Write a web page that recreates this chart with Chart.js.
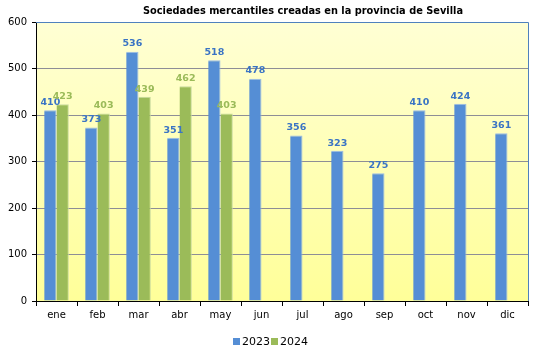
<!DOCTYPE html>
<html>
<head>
<meta charset="utf-8">
<script src="https://cdn.jsdelivr.net/npm/chart.js@4"></script>
<style>
  html, body { margin: 0; padding: 0; background: #fff; }
  #wrap { width: 539px; height: 351px; }
</style>
</head>
<body>
<div id="wrap"><canvas id="bar-chart"></canvas></div>
<script>
var meses = ["ene", "feb", "mar", "abr", "may", "jun", "jul", "ago", "sep", "oct", "nov", "dic"];
var datos2023 = [410, 373, 536, 351, 518, 478, 356, 323, 275, 410, 424, 361];
var datos2024 = [423, 403, 439, 462, 403, null, null, null, null, null, null, null];
var ticksY = [0, 100, 200, 300, 400, 500, 600];

var FONT = "'DejaVu Sans', sans-serif";
var AZUL = "#558ED5";
var VERDE = "#9BBB59";

// fondo amarillo degradado del area del grafico + borde superior/derecho
var fondo = {
  id: 'fondo',
  beforeDraw: function (chart) {
    var a = chart.chartArea, ctx = chart.ctx;
    var g = ctx.createLinearGradient(0, a.top, 0, a.bottom);
    g.addColorStop(0, "#FFFFD4");
    g.addColorStop(1, "#FFFF99");
    ctx.save();
    ctx.fillStyle = g;
    ctx.fillRect(a.left, a.top, a.right - a.left, a.bottom - a.top);
    ctx.restore();
  },
  afterDraw: function (chart) {
    var a = chart.chartArea, ctx = chart.ctx;
    ctx.save();
    ctx.strokeStyle = "#4F81BD";
    ctx.lineWidth = 1;
    ctx.beginPath();
    ctx.moveTo(a.left, a.top + 0.5);
    ctx.lineTo(a.right + 0.5, a.top + 0.5);
    ctx.lineTo(a.right + 0.5, a.bottom);
    ctx.stroke();

    // titulo
    ctx.fillStyle = "#000";
    ctx.font = "bold 9.8px " + FONT;
    ctx.textAlign = "center";
    ctx.textBaseline = "middle";
    ctx.fillText("Sociedades mercantiles creadas en la provincia de Sevilla", 303, 11);

    // leyenda
    ctx.font = "11px " + FONT;
    ctx.textAlign = "left";
    var items = [["2023", AZUL, 233], ["2024", VERDE, 271]];
    items.forEach(function (it) {
      ctx.fillStyle = it[1];
      ctx.fillRect(it[2], 338, 7, 7);
      ctx.fillStyle = "#000";
      ctx.fillText(it[0], it[2] + 9, 342);
    });
    ctx.restore();
  }
};

// etiquetas de valor sobre las barras
var etiquetas = {
  id: 'etiquetas',
  afterDatasetsDraw: function (chart) {
    var ctx = chart.ctx;
    ctx.save();
    ctx.font = "bold 9.5px " + FONT;
    ctx.textAlign = "center";
    ctx.textBaseline = "bottom";
    var colores = ["#3A74C4", "#9BBB59"];
    chart.data.datasets.forEach(function (ds, i) {
      var meta = chart.getDatasetMeta(i);
      meta.data.forEach(function (bar, j) {
        var v = ds.data[j];
        if (v === null || v === undefined) return;
        ctx.fillStyle = colores[i];
        ctx.fillText(v, bar.x, bar.y - 3);
      });
    });
    ctx.restore();
  }
};

new Chart(document.getElementById("bar-chart"), {
  type: 'bar',
  data: {
    labels: meses,
    datasets: [
      {
        label: "2023",
        backgroundColor: AZUL,
        borderColor: "#9DBCE6",
        borderWidth: { top: 1, right: 1, left: 0, bottom: 0 },
        data: datos2023
      }, {
        label: "2024",
        backgroundColor: VERDE,
        borderColor: "#C8DA9E",
        borderWidth: { top: 1, right: 1, left: 0, bottom: 0 },
        data: datos2024
      }
    ]
  },
  options: {
    responsive: true,
    maintainAspectRatio: false,
    animation: false,
    categoryPercentage: 0.6,
    barPercentage: 1.0,
    layout: { padding: { top: 22, right: 11, left: 0, bottom: 30 } },
    plugins: {
      legend: { display: false },
      title: { display: false },
      tooltip: { enabled: false }
    },
    scales: {
      x: {
        grid: { drawOnChartArea: false, drawTicks: true, tickLength: 5, color: "#000", offset: true },
        border: { color: "#000" },
        ticks: { color: "#000", font: { family: FONT, size: 10 }, padding: 3 },
        afterFit: function (s) { s.height = 20; }
      },
      y: {
        min: 0,
        max: 600,
        afterBuildTicks: function (s) { s.ticks = ticksY.map(function (v) { return { value: v }; }); },
        grid: {
          color: function (c) { return c.tick && c.tick.value === 600 ? "#4F81BD" : "#8E8E96"; },
          tickColor: "#000",
          tickLength: 4
        },
        border: { color: "#000" },
        ticks: { color: "#000", font: { family: FONT, size: 10 }, padding: 5 },
        afterFit: function (s) { s.width = 36; }
      }
    }
  },
  plugins: [fondo, etiquetas]
});
</script>
</body>
</html>
